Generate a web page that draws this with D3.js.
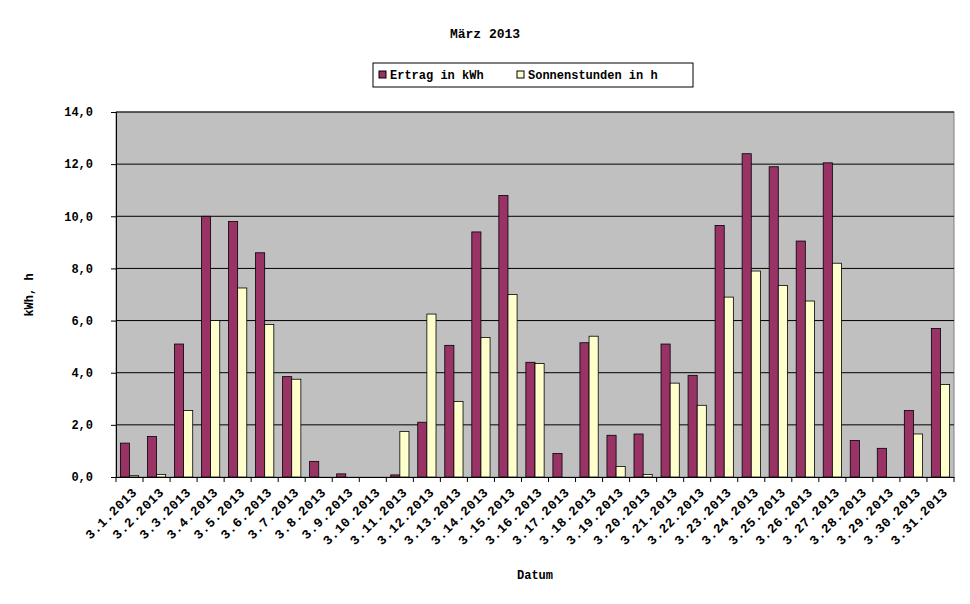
<!DOCTYPE html>
<html><head><meta charset="utf-8">
<script src="https://cdn.jsdelivr.net/npm/d3@7"></script>
<style>body{margin:0;background:#fff}text{font-family:"Liberation Mono","DejaVu Sans Mono",monospace;font-weight:bold;font-size:12px}</style>
</head><body><div id="chart"></div>
<script>
var days = d3.range(1, 32).map(function(d){ return "3." + d + ".2013"; });
var ertrag = [1.3,1.55,5.1,10.0,9.8,8.6,3.85,0.6,0.12,0,0.08,2.1,5.05,9.4,10.8,4.4,0.9,5.15,1.6,1.65,5.1,3.9,9.65,12.4,11.9,9.05,12.05,1.4,1.1,2.55,5.7];
var sonne = [0.05,0.1,2.55,6.0,7.25,5.85,3.75,0,0,0,1.75,6.25,2.9,5.35,7.0,4.35,0,5.4,0.4,0.1,3.6,2.75,6.9,7.9,7.35,6.75,8.2,0,0,1.65,3.55];
var yTicks = [0,2,4,6,8,10,12,14];

var W = 970, H = 604, pLeft = 116, pRight = 954, pTop = 112, pBottom = 477;
var svg = d3.select("#chart").append("svg").attr("width", W).attr("height", H);

var x = d3.scaleBand().domain(days).range([pLeft, pRight]);
var x1 = d3.scaleBand().domain(["e","s"]).range([0, x.bandwidth()]).paddingInner(0).paddingOuter(0.48);
var y = d3.scaleLinear().domain([0, 14]).range([pBottom, pTop]);

svg.append("rect").attr("x", pLeft).attr("y", pTop).attr("width", pRight - pLeft).attr("height", pBottom - pTop)
  .attr("fill", "#c0c0c0").attr("stroke", "#808080");

svg.append("g").selectAll("line").data(yTicks.slice(1)).enter().append("line")
  .attr("x1", pLeft).attr("x2", pRight).attr("y1", function(d){ return y(d); }).attr("y2", function(d){ return y(d); })
  .attr("stroke", "#000");

var g = svg.append("g").selectAll("g").data(days).enter().append("g")
  .attr("transform", function(d){ return "translate(" + x(d) + ",0)"; });
g.append("rect").attr("x", x1("e")).attr("width", x1.bandwidth())
  .attr("y", function(d, i){ return y(ertrag[i]); })
  .attr("height", function(d, i){ return pBottom - y(ertrag[i]); })
  .attr("fill", "#993366").attr("stroke", "#000").attr("stroke-width", 0.8);
g.append("rect").attr("x", x1("s")).attr("width", x1.bandwidth())
  .attr("y", function(d, i){ return y(sonne[i]); })
  .attr("height", function(d, i){ return pBottom - y(sonne[i]); })
  .attr("fill", "#ffffcc").attr("stroke", "#000").attr("stroke-width", 0.8);

var fmt = function(d){ return d3.format(".1f")(d).replace(".", ","); };
var ya = svg.append("g").attr("transform", "translate(" + pLeft + ",0)")
  .call(d3.axisLeft(y).tickValues(yTicks).tickFormat(fmt).tickSize(5).tickPadding(18));
ya.select(".domain").attr("stroke", "#000");
ya.selectAll("text").attr("fill", "#000").style("font-size", "12px");

var xa = svg.append("g").attr("transform", "translate(0," + pBottom + ")")
  .call(d3.axisBottom(x).tickSize(0).tickFormat(""));
xa.select(".domain").attr("stroke", "#000");
svg.append("g").selectAll("line").data(d3.range(32)).enter().append("line")
  .attr("x1", function(i){ return pLeft + i * x.step(); }).attr("x2", function(i){ return pLeft + i * x.step(); })
  .attr("y1", pBottom).attr("y2", pBottom + 5).attr("stroke", "#000");
svg.append("g").selectAll("text").data(days).enter().append("text")
  .attr("transform", function(d){ return "translate(" + (x(d) + x.bandwidth()/2 + 8) + "," + (pBottom + 16) + ") rotate(-45)"; })
  .attr("text-anchor", "end").style("font-size", "13px").style("letter-spacing", "0.5px").text(function(d){ return d; });

svg.append("text").attr("x", 485).attr("y", 38).attr("text-anchor", "middle").style("font-size", "13px").text("März 2013");
svg.append("text").attr("x", 535).attr("y", 579).attr("text-anchor", "middle").text("Datum");
svg.append("text").attr("transform", "translate(33,295) rotate(-90)").attr("text-anchor", "middle").text("kWh, h");

var lg = svg.append("g");
lg.append("rect").attr("x", 373).attr("y", 63).attr("width", 320).attr("height", 24).attr("fill", "#fff").attr("stroke", "#000");
lg.append("rect").attr("x", 379).attr("y", 71).attr("width", 7).attr("height", 7).attr("fill", "#993366").attr("stroke", "#000");
lg.append("text").attr("x", 390).attr("y", 79).text("Ertrag in kWh");
lg.append("rect").attr("x", 517).attr("y", 71).attr("width", 7).attr("height", 7).attr("fill", "#ffffcc").attr("stroke", "#000");
lg.append("text").attr("x", 528).attr("y", 79).text("Sonnenstunden in h");
</script></body></html>
